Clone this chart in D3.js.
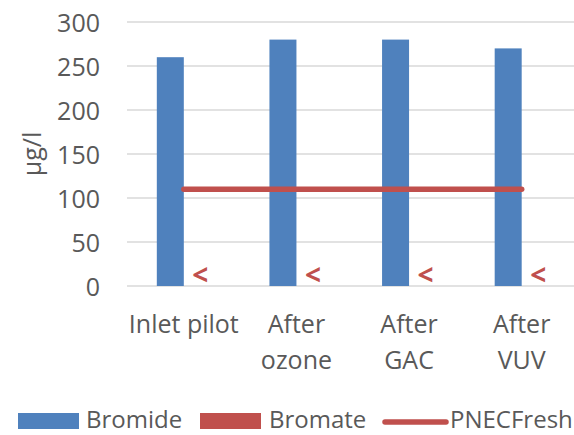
<!DOCTYPE html>
<html>
<head>
<meta charset="utf-8">
<script src="https://cdn.jsdelivr.net/npm/d3@7/dist/d3.min.js"></script>
<style>
  html, body { margin: 0; padding: 0; background: #fff; }
  svg { display: block; }
  text { font-family: "Open Sans", "DejaVu Sans", sans-serif; fill: #595959; }
</style>
</head>
<body>
<div id="chart"></div>
<script>
// Sampling points along the treatment train
const categories = [["Inlet pilot"], ["After", "ozone"], ["After", "GAC"], ["After", "VUV"]];
// Bromide concentration, µg/l
const bromide = [260, 280, 280, 270];
// Bromate concentration, µg/l (below detection limit everywhere)
const bromate = [0, 0, 0, 0];
const bromateLabels = ["<", "<", "<", "<"];
// Predicted no-effect concentration, freshwater, µg/l
const pnecFresh = [110, 110, 110, 110];
const yTicks = [0, 50, 100, 150, 200, 250, 300];
const seriesNames = ["Bromide", "Bromate", "PNECFresh"];

const W = 574, H = 435;
const blue = "#4F81BD", red = "#C0504D", grid = "#D9D9D9";

const svg = d3.select("#chart").append("svg")
  .attr("width", W).attr("height", H);

const x = d3.scaleBand()
  .domain(d3.range(categories.length))
  .range([127.5, 578])
  .paddingInner(0).paddingOuter(0);

const y = d3.scaleLinear().domain([0, 300]).range([286, 22]);

const barW = 27;

// Horizontal gridlines
svg.append("g").selectAll("line")
  .data(yTicks)
  .join("line")
  .attr("x1", 127).attr("x2", W)
  .attr("y1", d => y(d)).attr("y2", d => y(d))
  .attr("stroke", grid).attr("stroke-width", 1.6);

// Y axis tick labels
const yAxis = d3.axisLeft(y).tickValues(yTicks).tickSize(0).tickPadding(0);
const gy = svg.append("g").attr("transform", "translate(100,0)").call(yAxis);
gy.select(".domain").remove();
gy.selectAll("text")
  .attr("font-size", 25)
  .attr("font-family", null)
  .attr("fill", "#595959")
  .attr("dy", "0.36em");

// Y axis title
svg.append("text")
  .attr("transform", `translate(41,${(y(0) + y(300)) / 2}) rotate(-90)`)
  .attr("text-anchor", "middle")
  .attr("font-size", 25)
  .text("µg/l");

const cx = i => x(i) + x.bandwidth() / 2;

// Bromide bars (left of each cluster)
svg.append("g").selectAll("rect")
  .data(bromide)
  .join("rect")
  .attr("x", (d, i) => cx(i) - barW)
  .attr("width", barW)
  .attr("y", d => y(d))
  .attr("height", d => y(0) - y(d))
  .attr("fill", blue);

// Bromate bars (right of each cluster)
svg.append("g").selectAll("rect")
  .data(bromate)
  .join("rect")
  .attr("x", (d, i) => cx(i))
  .attr("width", barW)
  .attr("y", d => y(d))
  .attr("height", d => y(0) - y(d))
  .attr("fill", red);

// Bromate "below detection" labels
svg.append("g").selectAll("text")
  .data(bromate)
  .join("text")
  .attr("x", (d, i) => cx(i) + barW / 2 + 3)
  .attr("y", d => y(d) - 1)
  .attr("text-anchor", "middle")
  .attr("font-size", 28)
  .attr("font-weight", "bold")
  .style("fill", red)
  .text((d, i) => bromateLabels[i]);

// PNEC line
const line = d3.line().x((d, i) => cx(i)).y(d => y(d));
svg.append("path")
  .datum(pnecFresh)
  .attr("d", line)
  .attr("fill", "none")
  .attr("stroke", red)
  .attr("stroke-width", 5.5)
  .attr("stroke-linecap", "round");

// Category labels
const cat = svg.append("g").selectAll("text")
  .data(categories)
  .join("text")
  .attr("text-anchor", "middle")
  .attr("font-size", 25);
cat.selectAll("tspan")
  .data((d, i) => d.map(s => ({ s, i })))
  .join("tspan")
  .attr("x", d => cx(d.i))
  .attr("y", (d, j) => 333 + j * 36)
  .text(d => d.s);

// Legend
const lg = svg.append("g");
lg.append("rect").attr("x", 18).attr("y", 413).attr("width", 61).attr("height", 16).attr("fill", blue);
lg.append("text").attr("x", 86).attr("y", 428).attr("font-size", 24).text(seriesNames[0]);
lg.append("rect").attr("x", 200).attr("y", 413).attr("width", 61).attr("height", 16).attr("fill", red);
lg.append("text").attr("x", 269).attr("y", 428).attr("font-size", 24).text(seriesNames[1]);
lg.append("line").attr("x1", 385).attr("x2", 446).attr("y1", 422).attr("y2", 422)
  .attr("stroke", red).attr("stroke-width", 5.5).attr("stroke-linecap", "round");
lg.append("text").attr("x", 450).attr("y", 428).attr("font-size", 24).text(seriesNames[2]);
</script>
</body>
</html>
